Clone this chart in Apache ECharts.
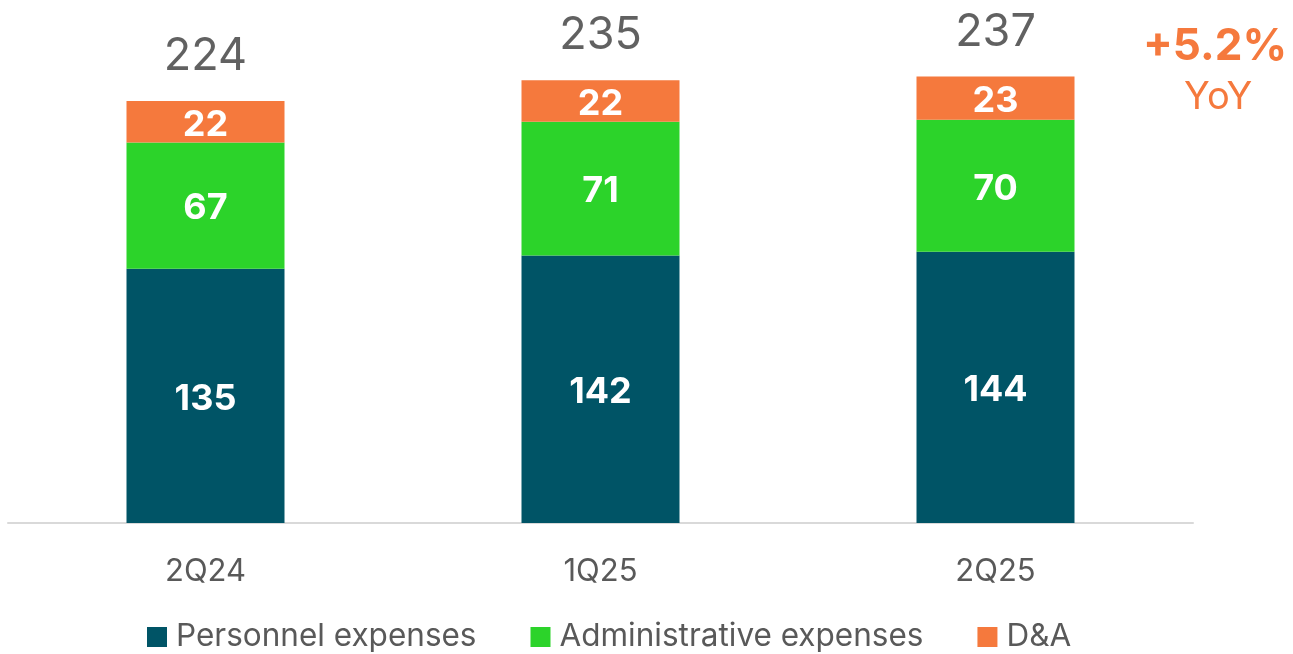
<!DOCTYPE html>
<html>
<head>
<meta charset="utf-8">
<script src="https://cdn.jsdelivr.net/npm/echarts@6/dist/echarts.min.js"></script>
<style>
  html, body { margin: 0; padding: 0; background: #fff; }
  #chart { width: 1293px; height: 654px; }
</style>
</head>
<body>
<div id="chart"></div>
<script>
var quarters = ['2Q24', '1Q25', '2Q25'];
var personnel = [135, 142, 144];
var admin = [67, 71, 70];
var dna = [22, 22, 23];
var totals = [224, 235, 237];
var yoyText = '+5.2%';

var font = 'Inter, "Noto Sans", sans-serif';

var chart = echarts.init(document.getElementById('chart'));

var insideLabel = {
  show: true,
  position: 'inside',
  offset: [0, 3],
  color: '#fff',
  fontFamily: font,
  fontWeight: 'bold',
  fontSize: 36
};

var option = {
  animation: false,
  grid: { left: 8, right: 100, top: 52, bottom: 131 },
  legend: {
    bottom: -4,
    left: 142,
    itemWidth: 20,
    itemHeight: 20,
    itemGap: 54,
    icon: 'rect',
    textStyle: { color: '#595959', fontSize: 31.5, fontFamily: font, padding: [0, 0, 0, 4] },
    data: ['Personnel expenses', 'Administrative expenses', 'D&A']
  },
  xAxis: {
    type: 'category',
    data: quarters,
    axisTick: { show: false },
    axisLine: { lineStyle: { color: '#d9d9d9', width: 2 } },
    axisLabel: { color: '#595959', fontSize: 31, fontFamily: font, margin: 33 }
  },
  yAxis: {
    type: 'value',
    min: 0,
    max: 250,
    show: false,
    splitLine: { show: false }
  },
  series: [
    {
      name: 'Personnel expenses',
      type: 'bar',
      stack: 'a',
      barWidth: 158,
      itemStyle: { color: '#005466' },
      label: insideLabel,
      data: personnel
    },
    {
      name: 'Administrative expenses',
      type: 'bar',
      stack: 'a',
      itemStyle: { color: '#2cd32a' },
      label: insideLabel,
      data: admin
    },
    {
      name: 'D&A',
      type: 'bar',
      stack: 'a',
      itemStyle: { color: '#f5793d' },
      label: insideLabel,
      data: dna
    },
    {
      name: 'Total',
      type: 'scatter',
      symbolSize: 0,
      silent: true,
      label: {
        show: true,
        position: 'top',
        distance: 22,
        color: '#3a3a3a',
        fontFamily: font,
        fontSize: 45
      },
      data: totals
    }
  ],
  graphic: [
    {
      type: 'text',
      left: 1143,
      top: 25,
      style: {
        text: yoyText,
        fill: '#f5793d',
        font: 'bold 44px ' + font
      }
    },
    {
      type: 'text',
      left: 1184,
      top: 79,
      style: {
        text: 'YoY',
        fill: '#f5793d',
        font: '38px ' + font
      }
    }
  ]
};

chart.setOption(option);
</script>
</body>
</html>
